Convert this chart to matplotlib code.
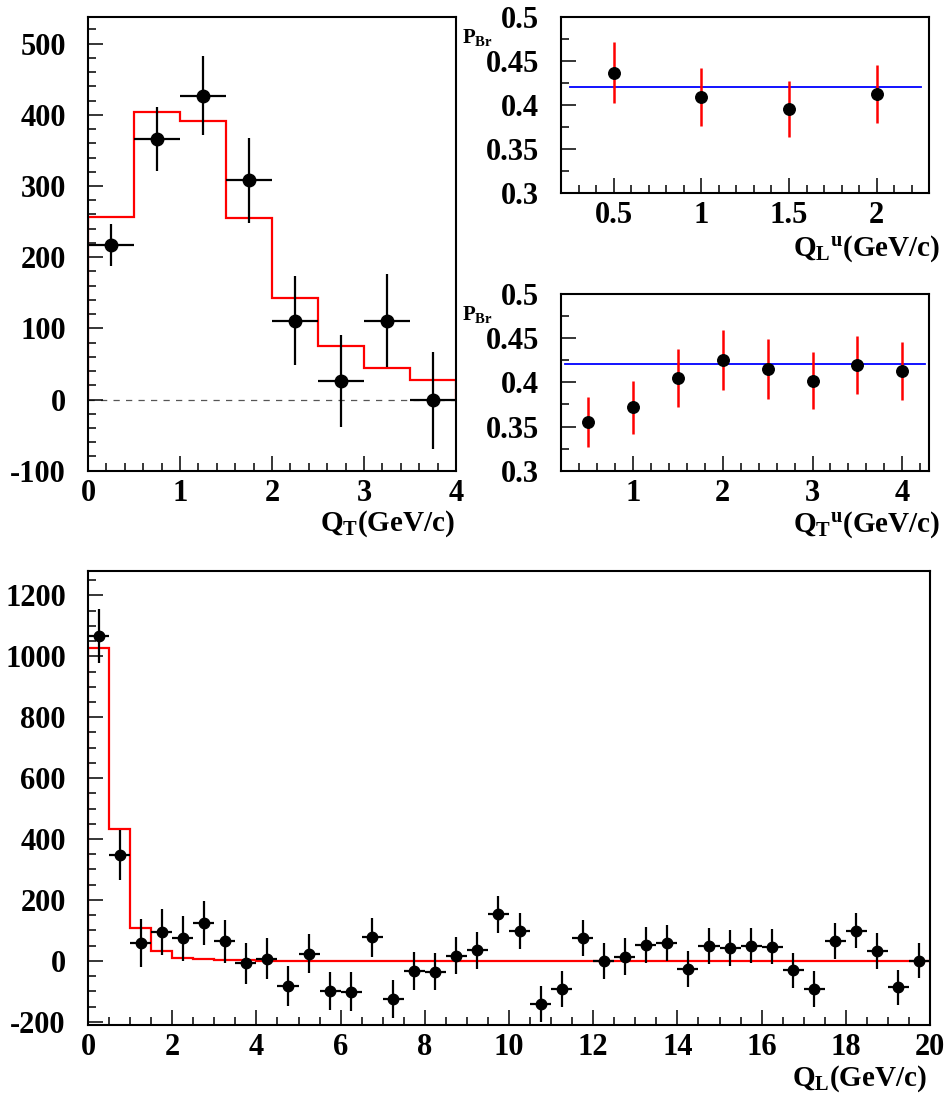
#!/usr/bin/env python3

import numpy as np
import matplotlib
matplotlib.use('Agg')
import matplotlib.pyplot as plt
from matplotlib.ticker import MultipleLocator, FormatStrFormatter

# --- data ---

# top left: Q_T spectrum
qt_x = [0.25, 0.75, 1.25, 1.75, 2.25, 2.75, 3.25, 3.75]
qt_y = [217, 366, 427, 308, 111, 26, 111, -1]
qt_err = [30, 45, 55, 60, 62, 64, 66, 68]
qt_edges = [0, 0.5, 1.0, 1.5, 2.0, 2.5, 3.0, 3.5, 4.0]
qt_model = [257, 404, 391, 255, 142, 75, 44, 27]

# top right: P_Br vs Q_L^u
plu_x = [0.5, 1.0, 1.5, 2.0]
plu_y = [0.437, 0.409, 0.395, 0.413]
plu_err = [0.035, 0.033, 0.032, 0.033]
plu_fit = 0.421
plu_fit_range = (0.25, 2.25)

# middle right: P_Br vs Q_T^u
ptu_x = [0.5, 1.0, 1.5, 2.0, 2.5, 3.0, 3.5, 4.0]
ptu_y = [0.355, 0.372, 0.405, 0.425, 0.415, 0.402, 0.420, 0.413]
ptu_err = [0.028, 0.030, 0.033, 0.034, 0.034, 0.032, 0.033, 0.033]
ptu_fit = 0.421
ptu_fit_range = (0.25, 4.25)

# bottom: Q_L spectrum, 40 bins of 0.5
ql_edges = np.arange(0, 20.01, 0.5)
ql_x = ql_edges[:-1] + 0.25
ql_y = [1067, 349, 59, 94, 74, 125, 64, -8, 7, -83,
        24, -99, -101, 77, -126, -34, -35, 17, 35, 153,
        98, -142, -92, 75, 0, 14, 52, 58, -27, 49,
        41, 50, 47, -31, -92, 64, 99, 32, -87, 0]
ql_err = [88, 82, 80, 76, 74, 72, 70, 68, 67, 65,
          65, 64, 63, 63, 62, 62, 61, 61, 61, 61,
          60, 59, 59, 60, 60, 60, 60, 59, 58, 58,
          59, 58, 58, 58, 58, 59, 58, 59, 57, 57]
ql_model = [1027, 434, 109, 31, 10, 5, 3, 2, 1, 1,
            0, 0, 0, 0, 0, 0, 0, 0, 0, 0,
            0, 0, 0, 0, 0, 0, 0, 0, 0, 0,
            0, 0, 0, 0, 0, 0, 0, 0, 0, 0]

half_bin = 0.25

plt.rcParams.update({
    'font.family': 'Liberation Serif',
    'font.weight': 'bold',
    'font.size': 22,
    'mathtext.fontset': 'custom',
    'mathtext.rm': 'Liberation Serif:bold',
    'mathtext.it': 'Liberation Serif:bold',
    'mathtext.bf': 'Liberation Serif:bold',
    'axes.unicode_minus': False,
    'axes.linewidth': 1.5,
})

W, H = 947, 1100


def px_axes(fig, x0, y0, x1, y1):
    # axes from pixel box (top-left origin)
    return fig.add_axes([x0 / W, 1 - y1 / H, (x1 - x0) / W, (y1 - y0) / H])


def root_ticks(ax, xmaj, xmin, ymaj, ymin, xpad=6, ypad=16):
    ax.xaxis.set_major_locator(MultipleLocator(xmaj))
    ax.xaxis.set_minor_locator(MultipleLocator(xmin))
    ax.yaxis.set_major_locator(MultipleLocator(ymaj))
    ax.yaxis.set_minor_locator(MultipleLocator(ymin))
    ax.xaxis.set_major_formatter(FormatStrFormatter('%g'))
    ax.yaxis.set_major_formatter(FormatStrFormatter('%g'))
    ax.tick_params(which='both', direction='in', top=False, right=False,
                   width=1.1, labelsize=22)
    ax.tick_params(which='major', length=11)
    ax.tick_params(which='minor', length=5.5)
    ax.tick_params(axis='x', pad=xpad)
    ax.tick_params(axis='y', pad=ypad)


def fig_label(fig, x, y, s, size=21, ha='right'):
    fig.text(x / W, 1 - y / H, s, fontsize=size, ha=ha, va='baseline')


def plot_spectrum(ax, x, y, err, edges, model, ms):
    ax.stairs(model, edges, color='red', linewidth=1.6, zorder=2)
    ax.errorbar(x, y, yerr=err, xerr=half_bin, fmt='o', color='black',
                ms=ms, elinewidth=1.6, capsize=0, zorder=3)


def plot_pbr(ax, x, y, err, fit, fit_range):
    ax.plot(fit_range, [fit, fit], color='blue', linewidth=1.3, zorder=1)
    ax.errorbar(x, y, yerr=err, fmt='none', ecolor='red',
                elinewidth=1.8, capsize=0, zorder=2)
    ax.plot(x, y, 'o', color='black', ms=8.3, zorder=3)


fig = plt.figure(figsize=(W / 100, H / 100), dpi=100)

# top left
ax = px_axes(fig, 88, 16.6, 456, 470.7)
ax.axhline(0, color='#555555', linewidth=0.9, linestyle=(0, (5, 5)), zorder=1)
plot_spectrum(ax, qt_x, qt_y, qt_err, qt_edges, qt_model, ms=9)
ax.set_xlim(0, 4)
ax.set_ylim(-100, 538)
root_ticks(ax, 1, 0.2, 100, 20)
fig_label(fig, 455, 531, r'$\mathrm{Q_{T}(GeV/c)}$')

# top right
ax = px_axes(fig, 561, 17.3, 929.3, 192.7)
plot_pbr(ax, plu_x, plu_y, plu_err, plu_fit, plu_fit_range)
ax.set_xlim(0.2, 2.3)
ax.set_ylim(0.3, 0.5)
root_ticks(ax, 0.5, 0.1, 0.05, 0.025)
fig_label(fig, 940, 256, r'$\mathrm{Q_{L}}^{\mathrm{u}}\mathrm{(GeV/c)}$')
fig_label(fig, 462, 43.3, r'$\mathrm{P_{Br}}$', size=15, ha='left')

# middle right
ax = px_axes(fig, 561, 294, 929.3, 470.7)
plot_pbr(ax, ptu_x, ptu_y, ptu_err, ptu_fit, ptu_fit_range)
ax.set_xlim(0.2, 4.3)
ax.set_ylim(0.3, 0.5)
root_ticks(ax, 1, 0.2, 0.05, 0.025)
fig_label(fig, 940, 532, r'$\mathrm{Q_{T}}^{\mathrm{u}}\mathrm{(GeV/c)}$')
fig_label(fig, 462, 320, r'$\mathrm{P_{Br}}$', size=15, ha='left')

# bottom
ax = px_axes(fig, 88, 571, 930, 1024.5)
plot_spectrum(ax, ql_x, ql_y, ql_err, ql_edges, ql_model, ms=7.5)
ax.set_xlim(0, 20)
ax.set_ylim(-209, 1280)
root_ticks(ax, 2, 0.5, 200, 50, xpad=6)
fig_label(fig, 927, 1086, r'$\mathrm{Q_{L}(GeV/c)}$')

fig.savefig('out.png', dpi=100)
